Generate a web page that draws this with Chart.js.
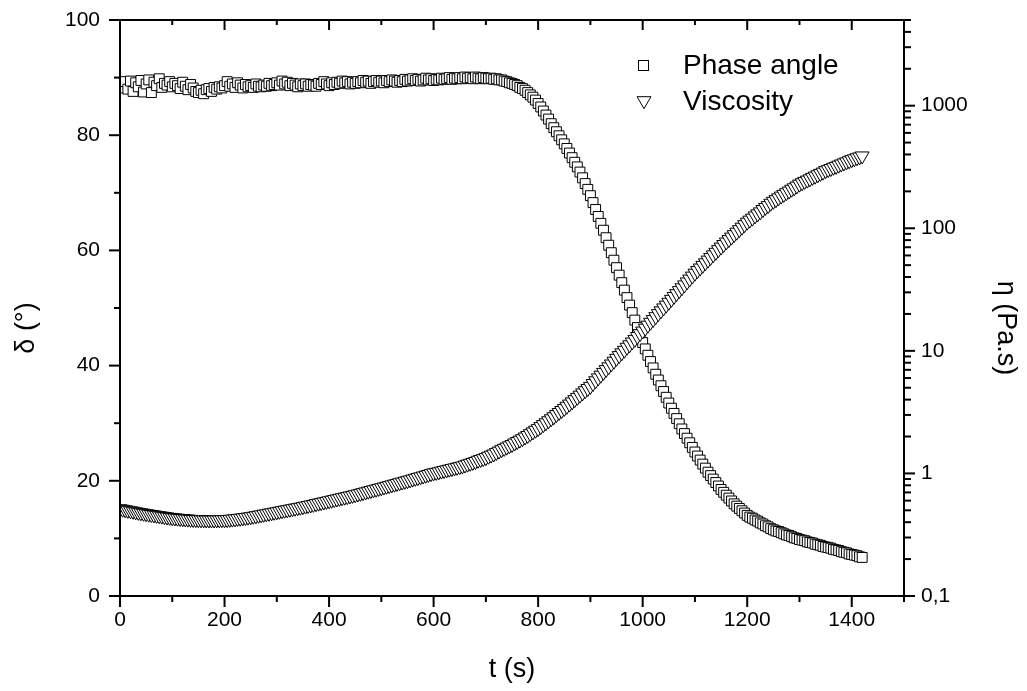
<!DOCTYPE html>
<html>
<head>
<meta charset="utf-8">
<title>Phase angle and viscosity vs time</title>
<script src="https://cdn.jsdelivr.net/npm/chart.js@4.4.0/dist/chart.umd.min.js"></script>
<style>
  html, body { margin: 0; padding: 0; background: #fff; }
  #wrap { width: 1027px; height: 691px; }
</style>
</head>
<body>
<div id="wrap"><canvas id="myChart"></canvas></div>
<script>
// --- Data (t in s, phase angle in degrees, viscosity in Pa.s) ---
const times = [
  0, 5, 10, 15, 20, 25, 30, 35, 40, 45,
  50, 55, 60, 65, 70, 75, 80, 85, 90, 95,
  100, 105, 110, 115, 120, 125, 130, 135, 140, 145,
  150, 155, 160, 165, 170, 175, 180, 185, 190, 195,
  200, 205, 210, 215, 220, 225, 230, 235, 240, 245,
  250, 255, 260, 265, 270, 275, 280, 285, 290, 295,
  300, 305, 310, 315, 320, 325, 330, 335, 340, 345,
  350, 355, 360, 365, 370, 375, 380, 385, 390, 395,
  400, 405, 410, 415, 420, 425, 430, 435, 440, 445,
  450, 455, 460, 465, 470, 475, 480, 485, 490, 495,
  500, 505, 510, 515, 520, 525, 530, 535, 540, 545,
  550, 555, 560, 565, 570, 575, 580, 585, 590, 595,
  600, 605, 610, 615, 620, 625, 630, 635, 640, 645,
  650, 655, 660, 665, 670, 675, 680, 685, 690, 695,
  700, 705, 710, 715, 720, 725, 730, 735, 740, 745,
  750, 755, 760, 765, 770, 775, 780, 785, 790, 795,
  800, 805, 810, 815, 820, 825, 830, 835, 840, 845,
  850, 855, 860, 865, 870, 875, 880, 885, 890, 895,
  900, 905, 910, 915, 920, 925, 930, 935, 940, 945,
  950, 955, 960, 965, 970, 975, 980, 985, 990, 995,
  1000, 1005, 1010, 1015, 1020, 1025, 1030, 1035, 1040, 1045,
  1050, 1055, 1060, 1065, 1070, 1075, 1080, 1085, 1090, 1095,
  1100, 1105, 1110, 1115, 1120, 1125, 1130, 1135, 1140, 1145,
  1150, 1155, 1160, 1165, 1170, 1175, 1180, 1185, 1190, 1195,
  1200, 1205, 1210, 1215, 1220, 1225, 1230, 1235, 1240, 1245,
  1250, 1255, 1260, 1265, 1270, 1275, 1280, 1285, 1290, 1295,
  1300, 1305, 1310, 1315, 1320, 1325, 1330, 1335, 1340, 1345,
  1350, 1355, 1360, 1365, 1370, 1375, 1380, 1385, 1390, 1395,
  1400, 1405, 1410, 1415, 1420
];

const phaseAngle = [
  89.0, 88.2, 89.3, 88.0, 89.4, 87.6, 89.1, 88.4, 89.5, 87.5,
  88.9, 89.6, 87.4, 89.2, 88.6, 89.8, 88.3, 89.0, 88.7, 89.3,
  88.4, 89.0, 88.6, 88.1, 89.2, 88.5, 87.9, 88.8, 88.2, 87.6,
  87.4, 87.8, 87.2, 87.9, 88.1, 87.6, 88.3, 88.0, 88.4, 88.2,
  88.6, 89.3, 88.5, 88.9, 88.3, 89.1, 88.7, 88.2, 88.8, 88.4,
  88.6, 88.3, 88.9, 88.5, 88.4, 88.7, 88.5, 89.0, 88.6, 88.8,
  89.1, 88.7, 89.4, 88.9, 89.2, 88.6, 89.0, 88.7, 88.4, 88.9,
  88.6, 88.9, 88.5, 88.8, 88.7, 88.5, 89.0, 88.8, 89.3, 88.9,
  88.6, 89.1, 88.8, 89.2, 89.0, 89.4, 89.1, 89.3, 88.9, 89.2,
  89.0, 89.3, 89.1, 89.5, 89.2, 89.4, 89.0, 89.3, 89.5, 89.2,
  89.4, 89.1, 89.5, 89.3, 89.6, 89.4, 89.2, 89.5, 89.3, 89.7,
  89.4, 89.6, 89.8, 89.5, 89.7, 89.4, 89.6, 89.9, 89.6, 89.8,
  89.5, 89.7, 89.6, 89.9, 89.7, 89.8, 90.0, 89.7, 89.9, 89.8,
  90.0, 89.8, 90.1, 89.9, 90.0, 89.8, 90.1, 89.9, 89.8, 90.0,
  89.9, 89.8, 89.9, 89.7, 89.8, 89.6, 89.6, 89.4, 89.3, 89.1,
  89.0, 88.8, 88.6, 88.3, 88.1, 87.8, 87.4, 87.0, 86.6, 86.1,
  85.5, 84.9, 84.2, 83.5, 82.8, 82.0, 81.3, 80.6, 79.9, 79.2,
  78.5, 77.7, 76.9, 76.1, 75.3, 74.5, 73.6, 72.6, 71.6, 70.6,
  69.5, 68.3, 67.1, 65.9, 64.7, 63.5, 62.2, 60.9, 59.6, 58.3,
  57.0, 55.7, 54.4, 53.1, 51.8, 50.5, 49.2, 47.9, 46.6, 45.3,
  44.0, 42.9, 41.8, 40.7, 39.6, 38.5, 37.5, 36.5, 35.5, 34.5,
  33.5, 32.6, 31.7, 30.8, 29.9, 29.0, 28.2, 27.4, 26.6, 25.8,
  25.0, 24.3, 23.6, 22.9, 22.2, 21.5, 20.9, 20.3, 19.7, 19.1,
  18.5, 18.0, 17.5, 17.0, 16.5, 16.0, 15.6, 15.2, 14.8, 14.4,
  14.0, 13.7, 13.5, 13.2, 13.0, 12.7, 12.5, 12.2, 12.0, 11.7,
  11.5, 11.3, 11.2, 11.0, 10.8, 10.6, 10.5, 10.3, 10.1, 10.0,
  9.8, 9.7, 9.6, 9.4, 9.3, 9.2, 9.0, 8.9, 8.8, 8.6,
  8.5, 8.4, 8.3, 8.1, 8.0, 7.9, 7.7, 7.6, 7.5, 7.3,
  7.2, 7.1, 7.0, 6.8, 6.7
];

const viscosity = [
  0.515, 0.510, 0.505, 0.500, 0.495, 0.491, 0.486, 0.481, 0.477, 0.473,
  0.469, 0.465, 0.462, 0.458, 0.455, 0.451, 0.448, 0.444, 0.441, 0.438,
  0.435, 0.433, 0.431, 0.429, 0.427, 0.425, 0.424, 0.422, 0.421, 0.420,
  0.419, 0.418, 0.418, 0.417, 0.417, 0.417, 0.417, 0.418, 0.418, 0.419,
  0.419, 0.420, 0.422, 0.424, 0.426, 0.429, 0.431, 0.434, 0.437, 0.440,
  0.443, 0.447, 0.451, 0.455, 0.459, 0.464, 0.468, 0.473, 0.477, 0.482,
  0.486, 0.491, 0.496, 0.501, 0.505, 0.510, 0.515, 0.520, 0.525, 0.530,
  0.535, 0.541, 0.547, 0.553, 0.559, 0.566, 0.572, 0.578, 0.585, 0.591,
  0.598, 0.605, 0.612, 0.619, 0.626, 0.633, 0.640, 0.647, 0.655, 0.662,
  0.670, 0.679, 0.688, 0.697, 0.706, 0.716, 0.725, 0.735, 0.744, 0.754,
  0.764, 0.774, 0.785, 0.795, 0.806, 0.817, 0.828, 0.839, 0.850, 0.862,
  0.873, 0.886, 0.899, 0.912, 0.925, 0.938, 0.952, 0.966, 0.980, 0.995,
  1.010, 1.020, 1.030, 1.045, 1.057, 1.069, 1.082, 1.095, 1.108, 1.121,
  1.135, 1.15, 1.17, 1.19, 1.21, 1.23, 1.25, 1.28, 1.30, 1.32,
  1.345, 1.38, 1.41, 1.44, 1.48, 1.52, 1.56, 1.60, 1.64, 1.68,
  1.72, 1.77, 1.82, 1.87, 1.92, 1.98, 2.04, 2.11, 2.18, 2.25,
  2.32, 2.41, 2.50, 2.59, 2.69, 2.79, 2.90, 3.02, 3.14, 3.26,
  3.39, 3.53, 3.68, 3.83, 4.00, 4.17, 4.35, 4.54, 4.73, 4.93,
  5.13, 5.41, 5.70, 6.01, 6.33, 6.67, 7.03, 7.41, 7.81, 8.23,
  8.69, 9.15, 9.63, 10.1, 10.7, 11.2, 11.8, 12.4, 13.1, 13.8,
  14.5, 15.3, 16.2, 17.1, 18.0, 19.0, 20.1, 21.2, 22.4, 23.6,
  24.9, 26.3, 27.8, 29.3, 31.0, 32.7, 34.5, 36.5, 38.5, 40.7,
  43.0, 45.2, 47.4, 49.8, 52.3, 55.0, 57.8, 60.7, 63.7, 66.9,
  70.3, 73.7, 77.2, 80.8, 84.7, 88.7, 92.9, 97.4, 102, 107,
  112, 116.5, 121, 126, 131, 136, 142, 148, 153, 160,
  166, 171, 177, 183, 189, 195, 201, 208, 214, 221,
  229, 235, 241, 247, 253, 260, 266, 273, 280, 287,
  295, 301, 307, 314, 320, 327, 334, 341, 348, 355,
  363, 369, 376, 382, 389
];

const seriesNames = ['Phase angle', 'Viscosity'];
const xTitle = 't (s)';
const leftTitle = 'δ (°)';
const rightTitle = 'η (Pa.s)';

// --- Axis ticks ---
const xTicks = [0, 200, 400, 600, 800, 1000, 1200, 1400];
const xTickLabels = ['0', '200', '400', '600', '800', '1000', '1200', '1400'];
const xMinorTicks = [100, 300, 500, 700, 900, 1100, 1300, 1500];
const leftTicks = [0, 20, 40, 60, 80, 100];
const leftMinorTicks = [10, 30, 50, 70, 90];
const rightTicks = [0.1, 1, 10, 100, 1000];
const rightTickLabels = ['0,1', '1', '10', '100', '1000'];
const rightMinorTicks = [
  0.2, 0.3, 0.4, 0.5, 0.6, 0.7, 0.8, 0.9,
  2, 3, 4, 5, 6, 7, 8, 9,
  20, 30, 40, 50, 60, 70, 80, 90,
  200, 300, 400, 500, 600, 700, 800, 900,
  2000, 3000, 4000, 5000
];

const FONT = "'Liberation Sans', Arial, sans-serif";
const tickFont = { family: FONT, size: 21 };
const titleFont = { family: FONT, size: 27 };

// --- Frame and tick marks (major/minor, outward on bottom/left/right, inward on top) ---
const frameTicks = {
  id: 'frameTicks',
  afterDraw(chart) {
    const { ctx, chartArea: a, scales } = chart;
    const line = (x1, y1, x2, y2) => {
      ctx.beginPath();
      ctx.moveTo(x1, y1);
      ctx.lineTo(x2, y2);
      ctx.stroke();
    };
    ctx.save();
    ctx.strokeStyle = '#000';
    ctx.lineWidth = 2;
    ctx.strokeRect(a.left, a.top, a.right - a.left, a.bottom - a.top);

    xTicks.forEach(v => {
      const px = scales.x.getPixelForValue(v);
      line(px, a.bottom, px, a.bottom + 11);
      line(px, a.top, px, a.top + 10);
    });
    xMinorTicks.forEach(v => {
      const px = scales.x.getPixelForValue(v);
      line(px, a.bottom, px, a.bottom + 6);
      line(px, a.top, px, a.top + 5);
    });
    leftTicks.forEach(v => {
      const py = scales.y.getPixelForValue(v);
      line(a.left - 11, py, a.left, py);
    });
    leftMinorTicks.forEach(v => {
      const py = scales.y.getPixelForValue(v);
      line(a.left - 6, py, a.left, py);
    });
    rightTicks.forEach(v => {
      const py = scales.y2.getPixelForValue(v);
      line(a.right, py, a.right + 11, py);
    });
    rightMinorTicks.forEach(v => {
      const py = scales.y2.getPixelForValue(v);
      line(a.right, py, a.right + 7, py);
    });
    ctx.restore();
  }
};

// --- Rotated y-axis titles (sit a little below the plot middle, as in the original) ---
const yTitles = {
  id: 'yTitles',
  afterDraw(chart) {
    const { ctx, chartArea: a } = chart;
    const cy = (a.top + a.bottom) / 2 + 20;
    ctx.save();
    ctx.fillStyle = '#000';
    ctx.font = `${titleFont.size}px ${FONT}`;
    ctx.textAlign = 'center';
    ctx.textBaseline = 'alphabetic';

    ctx.save();
    ctx.translate(34, cy);
    ctx.rotate(-Math.PI / 2);
    ctx.fillText(leftTitle, 0, 0);
    ctx.restore();

    ctx.save();
    ctx.translate(a.right + 93.5, cy);
    ctx.rotate(Math.PI / 2);
    ctx.fillText(rightTitle, 0, 0);
    ctx.restore();

    ctx.restore();
  }
};

// --- Legend drawn inside the plot, top right ---
const insideLegend = {
  id: 'insideLegend',
  afterDraw(chart) {
    const { ctx, chartArea: a } = chart;
    const mx = a.right - 261;
    const tx = a.right - 221;
    ctx.save();
    ctx.lineWidth = 1;
    ctx.strokeStyle = '#000';
    ctx.fillStyle = '#fff';

    // square marker
    ctx.fillRect(mx - 5, a.top + 40.5, 10, 10);
    ctx.strokeRect(mx - 4.5, a.top + 40.5, 10, 10);

    // down triangle marker
    const cy = a.top + 80.7;
    ctx.beginPath();
    ctx.moveTo(mx + 1, cy + 8);
    ctx.lineTo(mx + 1 - 6.93, cy - 4);
    ctx.lineTo(mx + 1 + 6.93, cy - 4);
    ctx.closePath();
    ctx.fill();
    ctx.stroke();

    ctx.fillStyle = '#000';
    ctx.font = `28px ${FONT}`;
    ctx.textBaseline = 'alphabetic';
    ctx.textAlign = 'left';
    ctx.fillText(seriesNames[0], tx, a.top + 54);
    ctx.fillText(seriesNames[1], tx, a.top + 89.5);
    ctx.restore();
  }
};

const ctx = document.getElementById('myChart').getContext('2d');
const chart = new Chart(ctx, {
  type: 'scatter',
  data: {
    datasets: [
      {
        label: seriesNames[0],
        data: times.map((t, i) => ({ x: t, y: phaseAngle[i] })),
        yAxisID: 'y',
        pointStyle: 'rect',
        pointRadius: 7,
        pointBorderWidth: 1,
        pointBorderColor: '#000',
        pointBackgroundColor: '#fff',
        clip: 0,
        order: 2
      },
      {
        label: seriesNames[1],
        data: times.map((t, i) => ({ x: t, y: viscosity[i] })),
        yAxisID: 'y2',
        pointStyle: 'triangle',
        pointRotation: 180,
        pointRadius: 8,
        pointBorderWidth: 1,
        pointBorderColor: '#000',
        pointBackgroundColor: '#fff',
        clip: 0,
        order: 1
      }
    ]
  },
  options: {
    responsive: true,
    maintainAspectRatio: false,
    animation: false,
    events: [],
    layout: { padding: { top: 20, left: 0, right: 0, bottom: 0 } },
    plugins: {
      legend: { display: false },
      tooltip: { enabled: false }
    },
    scales: {
      x: {
        type: 'linear',
        position: 'bottom',
        min: 0,
        max: 1500,
        afterBuildTicks: s => { s.ticks = xTicks.map(v => ({ value: v })); },
        afterFit: s => { s.height = 95; s.paddingLeft = 0; s.paddingRight = 0; },
        grid: { display: false, drawTicks: false },
        border: { display: false },
        ticks: {
          font: tickFont,
          color: '#000',
          padding: 12,
          maxRotation: 0,
          callback: (value, index) => xTickLabels[index]
        },
        title: { display: true, text: xTitle, font: titleFont, color: '#000', padding: { top: 0, bottom: 5 } }
      },
      y: {
        type: 'linear',
        position: 'left',
        min: 0,
        max: 100,
        afterBuildTicks: s => { s.ticks = leftTicks.map(v => ({ value: v })); },
        afterFit: s => { s.width = 120; s.paddingTop = 0; s.paddingBottom = 0; },
        grid: { display: false, drawTicks: false },
        border: { display: false },
        ticks: { font: tickFont, color: '#000', padding: 20 }
      },
      y2: {
        type: 'logarithmic',
        position: 'right',
        min: 0.1,
        max: 5000,
        afterBuildTicks: s => { s.ticks = rightTicks.map(v => ({ value: v })); },
        afterFit: s => { s.width = 123; s.paddingTop = 0; s.paddingBottom = 0; },
        grid: { display: false, drawTicks: false },
        border: { display: false },
        ticks: {
          font: tickFont,
          color: '#000',
          padding: 17,
          callback: (value, index) => rightTickLabels[index]
        }
      }
    }
  },
  plugins: [frameTicks, yTitles, insideLegend]
});
</script>
</body>
</html>
